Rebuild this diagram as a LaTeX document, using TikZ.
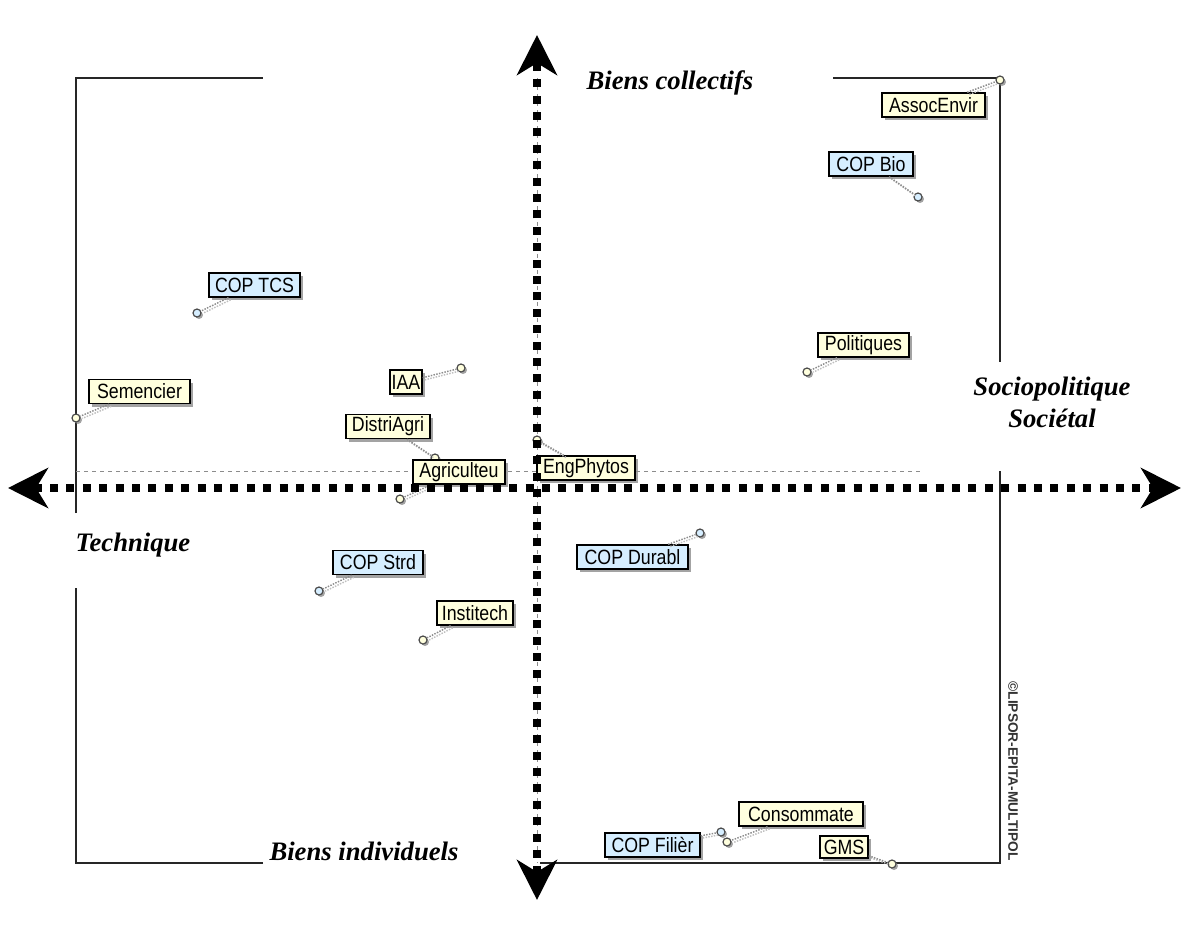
\documentclass[tikz,border=0pt]{standalone}
\usepackage{fontspec}
\setmainfont{Liberation Serif}
\newfontfamily\lblfont[FakeStretch=0.86]{Liberation Sans}
\newfontfamily\cpfont{Liberation Sans}
\usetikzlibrary{arrows.meta,shadows}
\definecolor{lyel}{RGB}{255,255,222}
\definecolor{lblu}{RGB}{214,238,255}
\tikzset{
  lbl/.style={draw=black, line width=1pt, font=\lblfont\fontsize{15.5}{16}\selectfont,
    minimum height=18pt, inner sep=1pt,
    drop shadow={shadow xshift=2.5pt, shadow yshift=-2.5pt, fill=black!45, opacity=0.8}},
  yel/.style={lbl, fill=lyel},
  blu/.style={lbl, fill=lblu},
  ptbase/.style={circle, draw=black!70, line width=0.9pt, inner sep=0pt, minimum size=6pt,
    drop shadow={shadow xshift=1.5pt, shadow yshift=-1.5pt, fill=black!45, opacity=0.8}},
  pty/.style={ptbase, fill=lyel},
  ptb/.style={ptbase, fill=lblu},
  conn/.style={draw=black!45, densely dotted, line width=1.1pt},
  connsh/.style={draw=black!25, densely dotted, line width=1.1pt,
    transform canvas={xshift=1.6pt, yshift=-1.6pt}},
  frame/.style={draw=black!85, line width=0.9pt},
  guide/.style={draw=black!45, dashed, line width=0.5pt},
  axis/.style={line width=6pt, dash pattern=on 6pt off 6.3pt,
    arrows={Stealth[length=30pt,width=30pt,inset=9pt]-Stealth[length=30pt,width=30pt,inset=9pt]}},
  ttl/.style={font=\bfseries\itshape\fontsize{20}{24}\selectfont, inner sep=0pt, align=center},
  copy/.style={font=\cpfont\bfseries\fontsize{10.3}{11}\selectfont, rotate=-90, text=black!80}
}
\begin{document}
\begin{tikzpicture}[x=0.75pt,y=-0.75pt]
\useasboundingbox (0,0) rectangle (1183,928);
% frame segments
\coordinate (f1) at (76,78); \coordinate (f2) at (263,78);
\coordinate (f3) at (833,78); \coordinate (f4) at (1000,78);
\coordinate (f5) at (1000,362); \coordinate (f6) at (1000,471);
\coordinate (f7) at (1000,863); \coordinate (f8) at (540,863);
\coordinate (f9) at (263,863); \coordinate (f10) at (76,863);
\coordinate (f11) at (76,588); \coordinate (f12) at (76,513);
\draw[frame] (f12) -- (f1) -- (f2);
\draw[frame] (f3) -- (f4) -- (f5);
\draw[frame] (f6) -- (f7) -- (f8);
\draw[frame] (f9) -- (f10) -- (f11);
% guides
\coordinate (g1) at (76,471); \coordinate (g2) at (920,471);
\coordinate (g3) at (537,78); \coordinate (g4) at (537,863);
\draw[guide] (g1) -- (g2);
\draw[guide] (g3) -- (g4);
% points
\node[pty] (p1) at (1000,80) {};
\node[ptb] (p2) at (918,197) {};
\node[ptb] (p3) at (197,313) {};
\node[pty] (p4) at (76,418) {};
\node[pty] (p5) at (461,368) {};
\node[pty] (p6) at (435,458) {};
\node[pty] (p7) at (400,499) {};
\node[pty] (p8) at (537,440) {};
\node[pty] (p9) at (807,372) {};
\node[ptb] (p10) at (700,533) {};
\node[ptb] (p11) at (319,591) {};
\node[pty] (p12) at (423,640) {};
\node[pty] (p13) at (727,842) {};
\node[ptb] (p14) at (721,832) {};
\node[pty] (p15) at (892,864) {};
% labels
\node[yel, minimum width=77.25pt] (l1) at (933.5,105) {AssocEnvir};
\node[blu, minimum width=63pt] (l2) at (871,164) {COP Bio};
\node[blu, minimum width=68.25pt] (l3) at (254.5,285) {COP TCS};
\node[yel, minimum width=75.75pt] (l4) at (139.5,391.5) {Semencier};
\node[yel, minimum width=24pt] (l5) at (406,382) {IAA};
\node[yel, minimum width=63pt] (l6) at (388,426.5) {DistriAgri};
\node[yel, minimum width=69pt] (l7) at (459,472) {Agriculteu};
\node[yel, minimum width=73.5pt] (l8) at (586,468) {EngPhytos};
\node[yel, minimum width=68.25pt] (l9) at (863.5,345) {Politiques};
\node[blu, minimum width=83.25pt] (l10) at (632.5,557) {COP Durabl};
\node[blu, minimum width=67.5pt] (l11) at (378,562.5) {COP Strd};
\node[yel, minimum width=57pt] (l12) at (475,613) {Institech};
\node[yel, minimum width=93pt] (l13) at (801,814) {Consommate};
\node[blu, minimum width=71.25pt] (l14) at (652.5,845) {COP Filièr};
\node[yel, minimum width=36pt, minimum height=16.5pt] (l15) at (844,847) {GMS};
% connectors (with their light shadow)
\foreach \i in {1,...,15} {
  \draw[connsh] (l\i) -- (p\i);
  \draw[conn] (l\i) -- (p\i);
}
% axes
\coordinate (axL) at (8,488); \coordinate (axR) at (1181,488);
\coordinate (axT) at (537,35); \coordinate (axB) at (537,900);
\draw[axis] (axL) -- (axR);
\draw[axis] (axB) -- (axT);
% titles
\node[ttl] (t1) at (670,83) {Biens collectifs};
\node[ttl] (t2) at (1052,402) {Sociopolitique\\Sociétal};
\node[ttl] (t3) at (133,545) {Technique};
\node[ttl] (t4) at (364,851) {Biens individuels};
\node[copy] (cp) at (1013,771) {©LIPSOR-EPITA-MULTIPOL};
\end{tikzpicture}
\end{document}
